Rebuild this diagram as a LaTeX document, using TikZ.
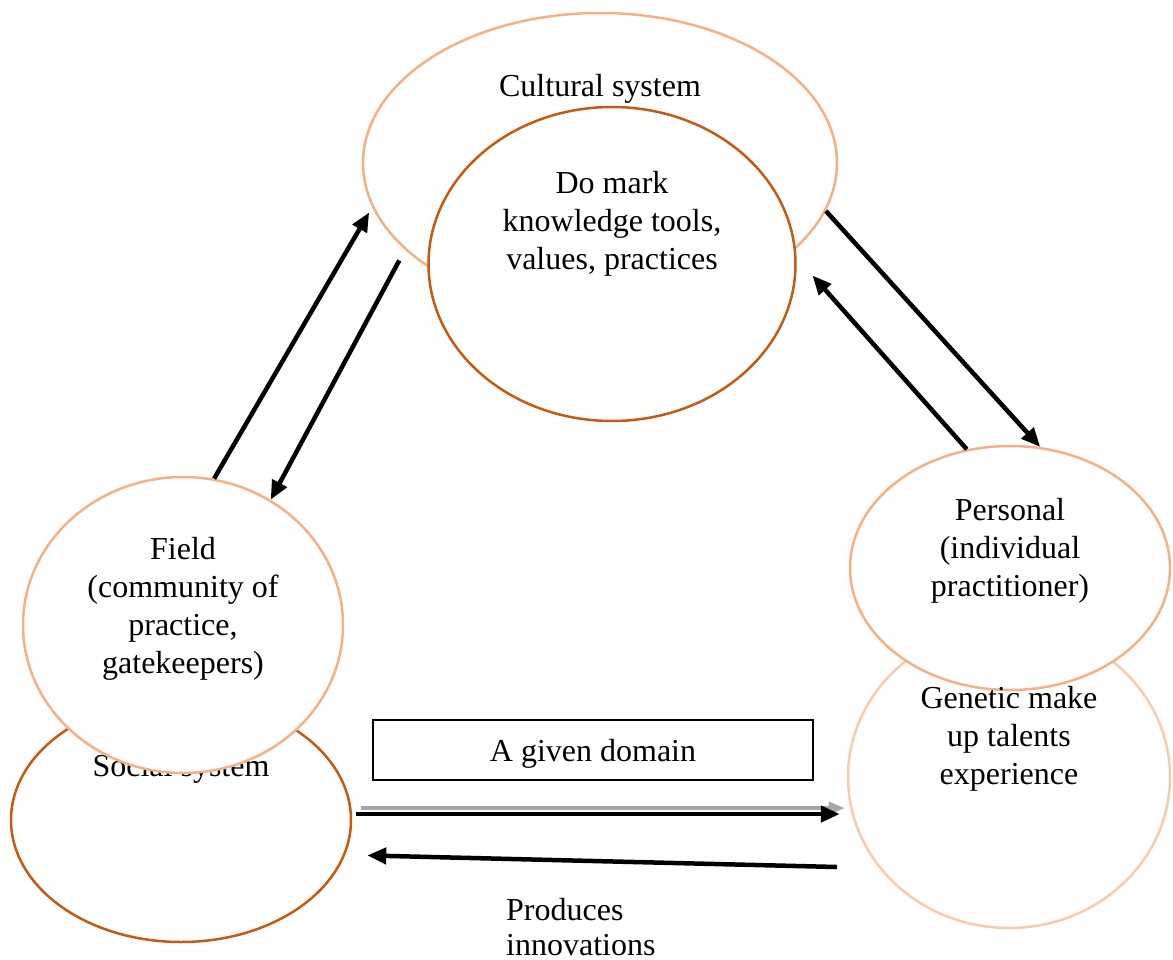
\documentclass[tikz,border=0pt]{standalone}
\usepackage{fontspec}
\setmainfont{Liberation Serif}
\usetikzlibrary{shapes.geometric,arrows.meta}
\definecolor{peach}{HTML}{F4B183}
\definecolor{rust}{HTML}{C55A11}
\definecolor{pale}{HTML}{F8CBAD}

\begin{document}
\begin{tikzpicture}[x=1pt,y=-1pt,
  blob/.style={ellipse,draw,fill=white,line width=2.5pt,inner sep=0pt},
  lbl/.style={align=center,font=\fontsize{32}{38}\selectfont,inner sep=0pt},
  link/.style={line width=4.5pt,-{Triangle[length=19pt,width=16pt]}}]
  \useasboundingbox (0,0) rectangle (1173,960);
  \node[blob,draw=peach,minimum width=474pt,minimum height=300pt] (cultural) at (600,163) {};
  \node[lbl] (culturaltxt) at ([yshift=74pt]cultural.center) {Cultural system};
  \node[blob,draw=rust,minimum width=367pt,minimum height=314pt] (knowledge) at (612,264) {};
  \node[lbl] (knowledgetxt) at ([yshift=40pt]knowledge.center) {Do mark\\knowledge tools,\\values, practices};
  \node[blob,draw=rust,minimum width=340pt,minimum height=244pt] (social) at (181,820) {};
  \node[lbl] (socialtxt) at ([yshift=51pt]social.center) {Social system};
  \node[blob,draw=peach,minimum width=320pt,minimum height=296pt] (field) at (183,625) {};
  \node[lbl] (fieldtxt) at ([yshift=16pt]field.center) {Field\\(community of\\practice,\\gatekeepers)};
  \node[blob,draw=pale,minimum width=322pt,minimum height=302pt] (genetic) at (1009,777) {};
  \node[blob,draw=peach,minimum width=320pt,minimum height=244pt] (personal) at (1010,568) {};
  \node[lbl] (personaltxt) at ([yshift=17pt]personal.center) {Personal\\(individual\\practitioner)};
  \node[lbl] (genetictxt) at ([yshift=38pt]genetic.center) {Genetic make\\up talents\\experience};
  \node[lbl,draw,line width=2pt,minimum width=440pt,minimum height=60pt,text height=30pt,text depth=7pt] (domain) at (593,750) {A given domain};
  \node[lbl,align=left,anchor=west,font=\fontsize{32}{35}\selectfont] (produces) at (506,927.5) {Produces\\innovations};

  \draw[link,shorten >=6pt] (field.78) -- (cultural.191);
  \draw[link,shorten <=12pt] (cultural.204.5) -- (field.55);
  \draw[link] (cultural.-12) -- (personal.76);
  \draw[link,shorten >=24pt] (personal.110) -- (knowledge.2);
  \draw[line width=3.5pt,color=gray!70,-{Triangle[length=16pt,width=12pt]},shorten <=10pt,shorten >=2pt] (social.4) -- (social.4 -| genetic.west);
  \draw[link,shorten <=4pt,shorten >=7pt] (social.2) -- (social.2 -| genetic.west);
  \draw[link,shorten <=42pt,shorten >=22pt] (genetic.215) -- (social.-12);
\end{tikzpicture}
\end{document}
